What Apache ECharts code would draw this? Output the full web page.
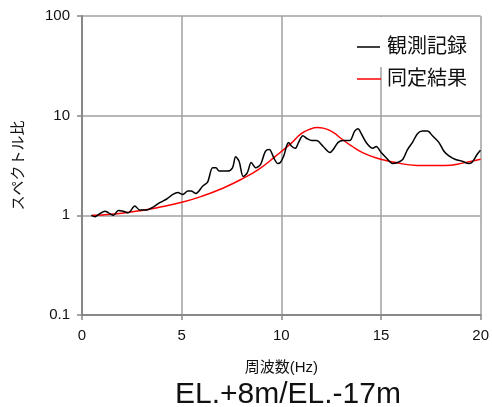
<!DOCTYPE html>
<html>
<head>
<meta charset="utf-8">
<script src="https://cdn.jsdelivr.net/npm/echarts@6/dist/echarts.min.js"></script>
<style>
  html, body { margin: 0; padding: 0; background: #fff; }
  #chart { width: 492px; height: 407px; }
</style>
</head>
<body>
<div id="chart"></div>
<script>
// observed record (観測記録)
var obsFreq = [0.46, 0.66, 0.83, 1.16, 1.33, 1.58, 1.82, 2.07, 2.32, 2.65, 2.9, 3.23, 3.57, 3.9, 4.23, 4.56, 4.81, 5.06, 5.31, 5.47, 5.72, 6.05, 6.3, 6.55, 6.72, 6.88, 7.3, 7.55, 7.71, 7.88, 8.09, 8.29, 8.49, 8.71, 8.96, 9.2, 9.4, 9.62, 9.82, 9.95, 10.12, 10.36, 10.53, 10.7, 10.86, 11.08, 11.28, 11.53, 11.77, 12.1, 12.44, 12.6, 12.85, 13.1, 13.43, 13.68, 13.85, 14.01, 14.26, 14.59, 14.76, 15.01, 15.26, 15.59, 15.84, 16.09, 16.33, 16.58, 16.83, 17.08, 17.33, 17.58, 17.91, 18.16, 18.41, 18.74, 19.07, 19.4, 19.57, 19.82, 19.99];
var obsAmp = [1.0, 0.97, 1.02, 1.10, 1.06, 1.0, 1.12, 1.10, 1.06, 1.24, 1.13, 1.13, 1.21, 1.34, 1.45, 1.62, 1.69, 1.62, 1.75, 1.75, 1.66, 1.96, 2.15, 3.0, 3.0, 2.78, 2.78, 3.0, 3.86, 3.49, 2.45, 2.67, 3.39, 3.0, 3.24, 4.39, 4.57, 3.78, 3.31, 3.39, 3.94, 5.37, 4.9, 4.7, 5.37, 6.3, 5.9, 5.62, 5.62, 4.9, 4.26, 4.57, 5.4, 5.62, 5.62, 7.0, 7.4, 6.6, 5.37, 4.7, 4.9, 4.26, 3.78, 3.31, 3.39, 3.63, 4.57, 5.4, 6.6, 7.0, 7.0, 6.3, 5.37, 4.39, 3.94, 3.63, 3.49, 3.31, 3.41, 4.08, 4.5];

// identified result (同定結果)
var fitFreq = [0.5, 1, 2, 3, 4, 5, 6, 7, 8, 8.9, 9.7, 10.5, 11.0, 11.5, 11.8, 12.1, 12.6, 13.0, 13.5, 14.1, 14.9, 15.7, 16.8, 18.2, 19.2, 20];
var fitAmp = [1.0, 1.01, 1.05, 1.12, 1.22, 1.35, 1.55, 1.85, 2.3, 2.93, 3.9, 5.3, 6.6, 7.4, 7.6, 7.5, 6.8, 5.9, 5.0, 4.24, 3.7, 3.4, 3.17, 3.16, 3.38, 3.65];

var xTicks = [0, 5, 10, 15, 20];
var yTicks = [0.1, 1, 10, 100];

function pairs(xs, ys) {
  var out = [];
  for (var i = 0; i < xs.length; i++) out.push([xs[i], ys[i]]);
  return out;
}

var chart = echarts.init(document.getElementById('chart'));
var txt = '#111';
var font = '"Liberation Sans", "Noto Sans CJK JP", sans-serif';

var option = {
  backgroundColor: '#fff',
  animation: false,
  title: {
    text: 'EL.+8m/EL.-17m',
    left: 170,
    top: 375,
    textStyle: { fontSize: 30, fontWeight: 'normal', color: txt, fontFamily: font }
  },
  grid: { left: 82, right: 8, top: 16, bottom: 92 },
  legend: {
    orient: 'vertical',
    left: 352,
    top: 32,
    icon: 'rect',
    itemWidth: 24,
    itemHeight: 1.5,
    itemGap: 12,
    textStyle: { fontSize: 20, color: txt, fontFamily: font, padding: [0, 0, 0, 1] },
    data: ['観測記録', '同定結果']
  },
  graphic: [{
    type: 'rect',
    shape: { x: 380, y: 17, width: 8, height: 50 },
    style: { fill: '#fff' },
    z: 5
  }],
  xAxis: {
    type: 'value',
    min: xTicks[0],
    max: xTicks[xTicks.length - 1],
    interval: 5,
    name: '周波数(Hz)',
    nameLocation: 'middle',
    nameGap: 45,
    nameTextStyle: { fontSize: 15, color: txt, fontFamily: font },
    axisLine: { lineStyle: { color: '#888', width: 2 } },
    axisTick: { show: true, length: 5, lineStyle: { color: '#888', width: 1.5 } },
    axisLabel: { fontSize: 15, color: txt, margin: 13, fontFamily: font },
    splitLine: { show: true, lineStyle: { color: '#a0a0a0', width: 1.5 } }
  },
  yAxis: {
    type: 'log',
    logBase: 10,
    min: yTicks[0],
    max: yTicks[yTicks.length - 1],
    name: 'スペクトル比',
    nameLocation: 'middle',
    nameRotate: 90,
    nameGap: 56,
    nameTextStyle: { fontSize: 15, color: txt, fontFamily: font },
    axisLine: { show: true, lineStyle: { color: '#888', width: 2 } },
    axisTick: { show: true, length: 5, lineStyle: { color: '#888', width: 1.5 } },
    axisLabel: {
      fontSize: 15, color: txt, margin: 12, fontFamily: font,
      formatter: function (v) { return String(v); }
    },
    minorTick: { show: false },
    splitLine: { show: true, lineStyle: { color: '#a0a0a0', width: 1.5 } }
  },
  series: [
    {
      name: '観測記録',
      type: 'line',
      data: pairs(obsFreq, obsAmp),
      symbol: 'none',
      smooth: 0.3,
      itemStyle: { color: '#000' },
      lineStyle: { color: '#000', width: 1.5 },
      z: 3
    },
    {
      name: '同定結果',
      type: 'line',
      data: pairs(fitFreq, fitAmp),
      symbol: 'none',
      smooth: true,
      itemStyle: { color: '#ff0000' },
      lineStyle: { color: '#ff0000', width: 1.5 },
      z: 2
    }
  ]
};

chart.setOption(option);
</script>
</body>
</html>
